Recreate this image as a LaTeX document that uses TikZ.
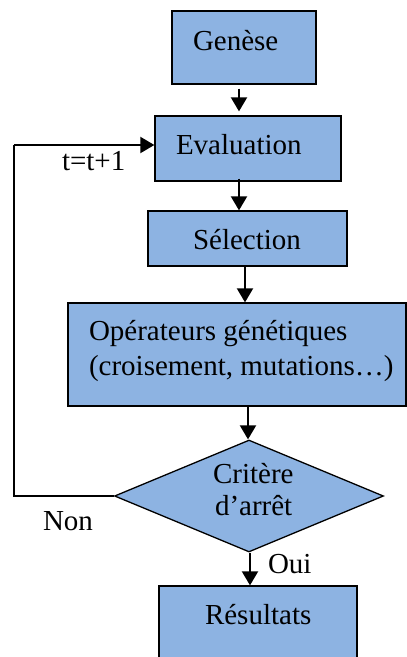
\documentclass[tikz,border=0pt]{standalone}
\usepackage{fontspec}
\setmainfont{Liberation Serif}
\usetikzlibrary{arrows.meta,shapes.geometric}
\definecolor{boxblue}{HTML}{8DB3E2}
\tikzset{
  stepbox/.style={draw=black, line width=1.3pt, fill=boxblue, rectangle, inner sep=0pt},
  decision/.style={draw=black, line width=1.3pt, fill=boxblue, diamond, inner sep=0pt},
  txt/.style={anchor=base west, inner sep=0pt, outer sep=0pt},
  arr/.style={line width=2pt, -{Triangle[length=14pt,width=16pt]}},
  loopline/.style={line width=2pt}
}
\begin{document}
\begin{tikzpicture}[x=1pt, y=-1pt, font=\fontsize{29}{35}\selectfont]
  \useasboundingbox (0,0) rectangle (407,657);
  \fill[white] (0,0) rectangle (407,657);
  \clip (0,0) rectangle (407,657);

  % process boxes
  \node[stepbox, minimum width=144pt, minimum height=73pt] (gen) at (244,47.5) {};
  \node[stepbox, minimum width=186pt, minimum height=65pt] (eval) at (248,148.5) {};
  \node[stepbox, minimum width=199pt, minimum height=55pt] (sel) at (247.5,238.5) {};
  \node[stepbox, minimum width=338pt, minimum height=103pt] (ops) at (237,354.5) {};
  \node[decision, minimum width=269pt, minimum height=112pt] (crit) at (249,496) {};
  \node[stepbox, minimum width=198pt, minimum height=100pt] (res) at (258,636) {};

  % box texts
  \node[txt] (tgen) at (193,50) {Genèse};
  \node[txt] (teval) at (176,154) {Evaluation};
  \node[txt] (tsel) at (193,249) {Sélection};
  \node[txt] (tops1) at (89,340) {Opérateurs génétiques};
  \node[txt] (tops2) at (89,375) {(croisement, mutations…)};
  \node[txt] (tcrit1) at (213,483) {Critère};
  \node[txt] (tcrit2) at (215,515) {d’arrêt};
  \node[txt] (tres) at (205,624) {Résultats};

  % edge labels
  \node[txt] (tinc) at (62,170) {t=t+1};
  \node[txt] (tnon) at (43,530) {Non};
  \node[txt] (toui) at (268,573) {Oui};

  % x positions of the vertical connectors
  \coordinate (xa) at (239,0);
  \coordinate (xb) at (245,0);
  \coordinate (xc) at (248,0);
  \coordinate (xd) at (250,0);

  % main flow
  \draw[arr, shorten <=4pt, shorten >=4pt] (gen.south -| xa) -- (eval.north -| xa);
  \draw[arr, shorten <=-3pt] (eval.south -| xa) -- (sel.north -| xa);
  \draw[arr] (sel.south -| xb) -- (ops.north -| xb);
  \draw[arr] (ops.south -| xc) -- (crit.north -| xc);
  \draw[arr] (crit.south -| xd) -- (res.north -| xd);

  % loop back for the next generation
  \coordinate (lb) at (14,496);
  \coordinate (lt) at (14,145);
  \draw[loopline] (crit.west) -- (lb) -- (lt);
  \draw[arr] (lt) -- (lt -| eval.west);
\end{tikzpicture}
\end{document}
